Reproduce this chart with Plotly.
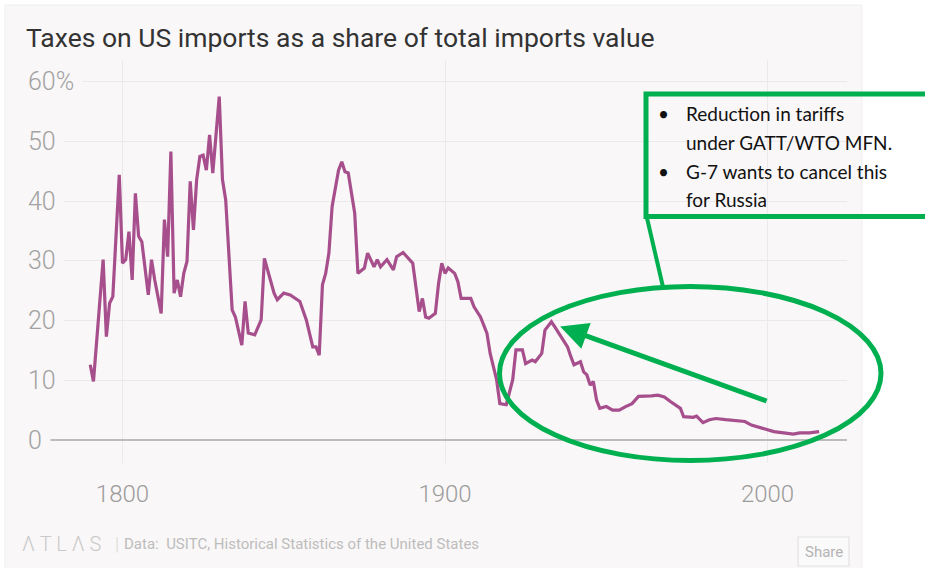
import plotly.graph_objects as go

# ---------------- data ----------------
years = [1790, 1791, 1794, 1795, 1796, 1797, 1799, 1800, 1801, 1802, 1803, 1804, 1805,
         1806, 1808, 1809, 1810, 1812, 1813, 1814, 1815, 1816, 1817, 1818, 1819, 1820,
         1821, 1822, 1823, 1824, 1825, 1826, 1827, 1828, 1830, 1831, 1832, 1834, 1835,
         1837, 1838, 1839, 1841, 1843, 1844, 1845, 1847, 1848, 1850, 1852, 1854, 1855,
         1857, 1859, 1860, 1861, 1862, 1863, 1864, 1865, 1867, 1868, 1869, 1870, 1872,
         1873, 1875, 1876, 1878, 1879, 1880, 1882, 1884, 1885, 1887, 1889, 1890, 1892,
         1893, 1894, 1895, 1897, 1898, 1899, 1900, 1901, 1903, 1904, 1905, 1907, 1908,
         1909, 1911, 1913, 1914, 1916, 1917, 1919, 1921, 1922, 1924, 1925, 1927, 1928,
         1930, 1931, 1933, 1934, 1936, 1938, 1939, 1940, 1942, 1943, 1944, 1945, 1946,
         1947, 1948, 1950, 1952, 1954, 1956, 1958, 1960, 1962, 1964, 1966, 1968, 1970,
         1973, 1974, 1977, 1978, 1980, 1982, 1984, 1987, 1990, 1993, 1995, 1998, 2000,
         2002, 2005, 2008, 2010, 2013, 2016]
tariff_share = [12.6, 9.8, 30.2, 17.3, 22.9, 24.0, 44.4, 29.6, 30.2, 34.9, 26.8, 41.3, 34.1,
                33.2, 24.3, 30.2, 26.8, 21.2, 36.9, 30.7, 48.3, 24.6, 26.8, 24.0, 27.9, 29.9,
                43.3, 35.2, 43.6, 47.5, 47.7, 45.2, 51.1, 44.7, 57.5, 43.6, 40.2, 21.8, 20.6,
                15.9, 23.2, 17.9, 17.6, 20.1, 30.4, 28.5, 24.6, 23.5, 24.6, 24.3, 23.5, 23.2,
                20.1, 15.6, 15.6, 14.2, 26.0, 27.9, 31.3, 39.1, 45.2, 46.6, 44.9, 44.7, 38.0,
                27.9, 28.8, 31.3, 29.0, 30.2, 29.0, 30.2, 28.5, 30.7, 31.4, 30.2, 29.6, 21.5,
                23.7, 20.6, 20.4, 21.2, 26.2, 29.6, 27.9, 28.8, 27.9, 26.5, 23.7, 23.7, 23.7,
                22.3, 20.6, 17.9, 14.5, 10.1, 6.1, 5.9, 10.1, 15.1, 15.1, 12.8, 13.4, 13.1,
                14.5, 18.4, 19.8, 19.0, 17.3, 15.6, 14.0, 12.6, 13.1, 11.4, 10.9, 9.2, 9.8,
                6.7, 5.3, 5.6, 5.0, 5.0, 5.6, 6.1, 7.3, 7.3, 7.4, 7.5, 7.2, 6.4,
                5.3, 3.9, 3.8, 4.0, 2.9, 3.4, 3.6, 3.4, 3.2, 3.1, 2.5, 2.0, 1.6,
                1.4, 1.2, 1.0, 1.2, 1.2, 1.4]

y_ticks = [0, 10, 20, 30, 40, 50, 60]
y_tick_labels = ["0", "10", "20", "30", "40", "50", "60%"]
x_ticks = [1800, 1900, 2000]
x_tick_labels = ["1800", "1900", "2000"]

title_text = "Taxes on US imports as a share of total imports value"
logo_text = "Λ T L Λ S"
source_text = "Data:  USITC, Historical Statistics of the United States"
share_text = "Share"
note_lines = ["Reduction in tariffs", "under GATT/WTO MFN.", "G-7 wants to cancel this", "for Russia"]
note_bullets = [True, False, True, False]
arrow_target = (1935.7, 19.0)

# ---------------- layout helpers ----------------
W, H = 925, 568
L, R, T, B = 27, 847, 60, 463


def px(x):
    return (x - L) / (R - L)


def py(y):
    return (B - y) / (B - T)


PANEL = "#f9f7f7"
GREEN = "#00b050"
LINE = "#a64f8c"
LIGHT = "Roboto, Lato, sans-serif"

fig = go.Figure()
fig.add_trace(go.Scatter(x=years, y=tariff_share, mode="lines",
                         line=dict(color=LINE, width=3.2), hoverinfo="skip"))

shapes = [
    # panel background
    dict(type="rect", xref="paper", yref="paper", x0=px(5), x1=px(862), y0=py(5), y1=py(570),
         fillcolor=PANEL, line=dict(color="#efefef", width=1), layer="below"),
    # share button
    dict(type="rect", xref="paper", yref="paper", x0=px(798), x1=px(849), y0=py(537), y1=py(566),
         fillcolor="#fbfafa", line=dict(color="#e3e1e1", width=1.2), layer="above"),
    # green note box
    dict(type="rect", xref="paper", yref="paper", x0=px(646), x1=px(940), y0=py(94), y1=py(216.5),
         line=dict(color=GREEN, width=5), fillcolor="rgba(0,0,0,0)", layer="above"),
    # connector
    dict(type="line", xref="paper", yref="paper", x0=px(647), x1=px(663), y0=py(218), y1=py(287),
         line=dict(color=GREEN, width=4), layer="above"),
    # ellipse
    dict(type="circle", xref="paper", yref="paper", x0=px(499.5), x1=px(881), y0=py(286.5), y1=py(460.5),
         line=dict(color=GREEN, width=5), fillcolor="rgba(0,0,0,0)", layer="above"),
]

annotations = []
# y tick labels (masking the gridline start)
for v, lab in zip(y_ticks, y_tick_labels):
    annotations.append(dict(x=0, xref="paper", y=v, yref="y", text=lab, showarrow=False,
                            xanchor="left", yanchor="middle", xshift=-8, borderpad=8,
                            bgcolor=PANEL, font=dict(family=LIGHT, size=25, color="#a2a2a2", weight=300)))
# title
annotations.append(dict(x=px(24), y=py(37), xref="paper", yref="paper", text=title_text,
                        showarrow=False, xanchor="left", yanchor="middle",
                        font=dict(family=LIGHT, size=26.5, color="#333333")))
# footer
annotations.append(dict(x=px(20), y=py(544), xref="paper", yref="paper", text=logo_text,
                        showarrow=False, xanchor="left", yanchor="middle",
                        font=dict(family=LIGHT, size=20, color="#c9c9c9", weight=300)))
annotations.append(dict(x=px(113), y=py(543), xref="paper", yref="paper", text="|",
                        showarrow=False, xanchor="left", yanchor="middle",
                        font=dict(family=LIGHT, size=18, color="#d8d8d8", weight=300)))
annotations.append(dict(x=px(122), y=py(544), xref="paper", yref="paper", text=source_text,
                        showarrow=False, xanchor="left", yanchor="middle",
                        font=dict(family=LIGHT, size=15, color="#bdbdbd")))
annotations.append(dict(x=px(823.5), y=py(551.5), xref="paper", yref="paper", text=share_text,
                        showarrow=False, xanchor="center", yanchor="middle",
                        font=dict(family=LIGHT, size=15, color="#b3b3b3")))
# note text
line_y = [113, 142, 171, 200]
for txt, bul, yy in zip(note_lines, note_bullets, line_y):
    if bul:
        annotations.append(dict(x=px(656), y=py(yy), xref="paper", yref="paper", text="•",
                                showarrow=False, xanchor="left", yanchor="middle",
                                font=dict(family="Lato, sans-serif", size=19, color="#111111")))
    annotations.append(dict(x=px(684), y=py(yy), xref="paper", yref="paper", text=txt,
                            showarrow=False, xanchor="left", yanchor="middle",
                            font=dict(family="Lato, sans-serif", size=19, color="#111111")))
# green arrow
annotations.append(dict(x=arrow_target[0], y=arrow_target[1], xref="x", yref="y", text="",
                        showarrow=True, ax=208, ay=75, axref="pixel", ayref="pixel",
                        arrowhead=2, arrowsize=1.1, arrowwidth=5, arrowcolor=GREEN))

fig.update_layout(
    width=W, height=H, autosize=False,
    margin=dict(l=L, r=W - R, t=T, b=H - B, pad=0),
    paper_bgcolor="white", plot_bgcolor="rgba(0,0,0,0)",
    showlegend=False,
    shapes=shapes, annotations=annotations,
    xaxis=dict(range=[1770.39, 2024.65], tickvals=x_ticks, ticktext=x_tick_labels,
               showgrid=True, gridcolor="#ece9ea", gridwidth=1.2, zeroline=False, showline=False,
               ticks="outside", ticklen=9, tickcolor="rgba(0,0,0,0)",
               tickfont=dict(family=LIGHT, size=24, color="#9c9c9c", weight=300), fixedrange=True),
    yaxis=dict(range=[-3.85, 63.63], tickvals=y_ticks, showticklabels=False,
               showgrid=True, gridcolor="#ece9ea", gridwidth=1.2,
               zeroline=True, zerolinecolor="#bcbcbc", zerolinewidth=2, showline=False,
               ticks="", fixedrange=True),
)

fig.write_html("out.html", config={"displayModeBar": False},
               post_script="document.body.style.margin='0px';")
